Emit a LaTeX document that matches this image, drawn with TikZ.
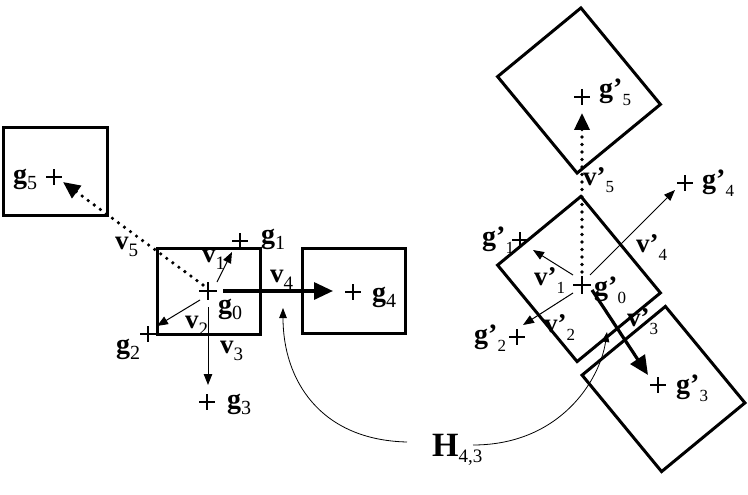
\documentclass[tikz,border=0pt]{standalone}
\usepackage{fontspec}
\setmainfont{Liberation Serif}
\usetikzlibrary{arrows.meta}
\newcommand\lsub[1]{\raisebox{-6pt}{\fontsize{20}{20}\selectfont #1}}
\newcommand\vsub[1]{\raisebox{-7pt}{\fontsize{19}{19}\selectfont #1}}
\newcommand\rsub[1]{\raisebox{-8pt}{\fontsize{17}{17}\selectfont #1}}
\tikzset{
  lab/.style={font=\fontsize{28}{28}\selectfont, inner sep=0pt, anchor=base west},
  vlab/.style={font=\fontsize{27}{27}\selectfont, inner sep=0pt, anchor=base west},
  sqbox/.style={draw, line width=3pt, inner sep=0pt, minimum width=103pt, minimum height=86pt},
  rbox/.style={draw, line width=3pt, inner sep=0pt, minimum width=125pt, minimum height=108pt, rotate=-50.5},
  thinarr/.style={line width=1pt, -{Triangle[length=11pt,width=8.5pt]}},
  thickarr/.style={line width=3.2pt, -{Triangle[length=19pt,width=17pt]}},
  dotarr/.style={line width=3.6pt, line cap=round, dash pattern=on 0pt off 7.5pt, -{Triangle[length=17pt,width=15pt]}},
  curvearr/.style={line width=0.8pt, -{Triangle[length=10pt,width=7.5pt]}},
  plus/.pic={\draw[line width=1.1pt] (-8,0)--(8,0) (0,-8)--(0,8);},
  bplus/.pic={\draw[line width=2.8pt] (-9,0)--(9,0) (0,-9)--(0,9);}
}
\begin{document}
\begin{tikzpicture}[x=1pt,y=-1pt]
\useasboundingbox (0,0) rectangle (748,495);
% boxes
\node[sqbox, minimum width=104pt, minimum height=87pt] (B5) at (55,171.5) {};
\node[sqbox] (B0) at (208.5,291) {};
\node[sqbox, minimum height=85pt] (B4) at (353.5,290.5) {};
\node[rbox] (R5) at (579,90.5) {};
\node[rbox] (R0) at (579,279) {};
\node[rbox] (R3) at (663.5,389) {};
% centres
\coordinate (G0) at (208,291);
\coordinate (G1) at (240,241);
\coordinate (G2) at (148,334);
\coordinate (G3) at (207,402);
\coordinate (G4) at (353,292);
\coordinate (G5) at (54,177);
\coordinate (P0) at (582,285);
\coordinate (P1) at (520,240);
\coordinate (P2) at (517,337);
\coordinate (P3) at (658,385);
\coordinate (P4) at (685,183);
\coordinate (P5) at (582,97);
\pic at (G0) {bplus};
\pic at (P0) {bplus};
\foreach \p in {G1,G2,G3,G4,G5,P1,P2,P3,P4,P5} {\pic at (\p) {plus};}
% left arrows
\coordinate (v1s) at (217,282); \coordinate (v1e) at (232,252);
\coordinate (v2s) at (200,300); \coordinate (v2e) at (157,326);
\coordinate (v3s) at (208,307); \coordinate (v3e) at (208,385);
\coordinate (v4s) at (223,291); \coordinate (v4e) at (333,291);
\coordinate (v5s) at (203,285); \coordinate (v5e) at (63,182);
\draw[thinarr] (v1s) -- (v1e);
\draw[thinarr] (v2s) -- (v2e);
\draw[thinarr] (v3s) -- (v3e);
\draw[thickarr] (v4s) -- (v4e);
\draw[dotarr] (v5s) -- (v5e);
% right arrows
\coordinate (w1s) at (573,275); \coordinate (w1e) at (533,250);
\coordinate (w2s) at (573,293); \coordinate (w2e) at (523,325);
\coordinate (w3s) at (592,290); \coordinate (w3e) at (648,375);
\coordinate (w4s) at (590,275); \coordinate (w4e) at (675,190);
\coordinate (w5s) at (582,272); \coordinate (w5e) at (582,113);
\draw[thinarr] (w1s) -- (w1e);
\draw[thinarr] (w2s) -- (w2e);
\draw[thickarr] (w3s) -- (w3e);
\draw[thinarr] (w4s) -- (w4e);
\draw[dotarr] (w5s) -- (w5e);
% labels left
\node[lab] (g5) at (13,183) {\textbf{g}\lsub{5}};
\node[lab] (g1) at (261,243) {\textbf{g}\lsub{1}};
\node[lab] (g0) at (218,313) {\textbf{g}\lsub{0}};
\node[lab] (g4) at (372,301) {\textbf{g}\lsub{4}};
\node[lab] (g2) at (116,353) {\textbf{g}\lsub{2}};
\node[lab] (g3) at (227,408) {\textbf{g}\lsub{3}};
\node[vlab] (v1) at (202,262) {\textbf{v}\vsub{1}};
\node[vlab] (v2) at (185,328) {\textbf{v}\vsub{2}};
\node[vlab] (v3) at (220,353) {\textbf{v}\vsub{3}};
\node[vlab] (v4) at (270,282) {\textbf{v}\vsub{4}};
\node[vlab] (v5) at (115,249) {\textbf{v}\vsub{5}};
% labels right
\node[lab] (h5) at (599,98) {\textbf{g’}\rsub{5}};
\node[lab] (h4) at (702,189) {\textbf{g’}\rsub{4}};
\node[lab] (h1) at (482,245) {\textbf{g’}\rsub{1}};
\node[lab] (h0) at (594,295) {\textbf{g’}\rsub{0}};
\node[lab] (h2) at (474,343) {\textbf{g’}\rsub{2}};
\node[lab] (h3) at (676,393) {\textbf{g’}\rsub{3}};
\node[vlab] (u5) at (583,185) {\textbf{v’}\rsub{5}};
\node[vlab] (u4) at (636,252) {\textbf{v’}\rsub{4}};
\node[vlab] (u1) at (534,285) {\textbf{v’}\rsub{1}};
\node[vlab] (u2) at (544,332) {\textbf{v’}\rsub{2}};
\node[vlab] (u3) at (627,326) {\textbf{v’}\rsub{3}};
% H
\node[inner sep=0pt, anchor=base west, font=\fontsize{34}{34}\selectfont] (H) at (432,456) {\textbf{H}\raisebox{-6pt}{\fontsize{19}{19}\selectfont 4,3}};
\coordinate (hl) at (407,442); \coordinate (hlt) at (283,308);
\coordinate (hr) at (473,445); \coordinate (hrt) at (607,332);
\draw[curvearr] (hl) .. controls (320,440) and (283,380) .. (hlt);
\draw[curvearr] (hr) .. controls (560,445) and (600,380) .. (hrt);
\end{tikzpicture}
\end{document}
